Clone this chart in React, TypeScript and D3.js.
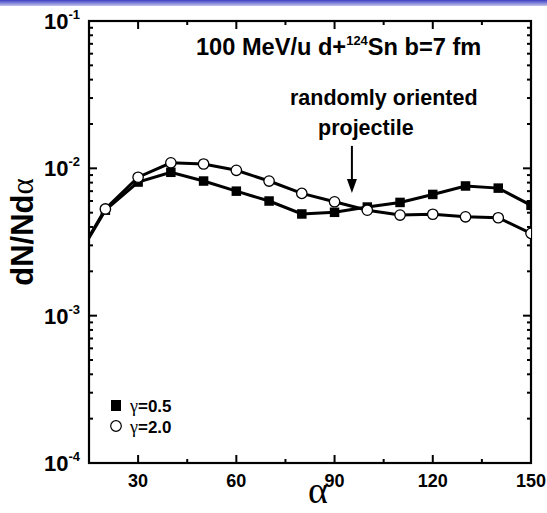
import React from 'react';
import * as d3 from 'd3';

const angles = [10, 20, 30, 40, 50, 60, 70, 80, 90, 100, 110, 120, 130, 140, 150];
const gammaHalf = [2.2e-3, 5.2e-3, 8.07e-3, 9.4e-3, 8.2e-3, 7.0e-3, 6.0e-3, 4.9e-3, 5.03e-3, 5.46e-3, 5.87e-3, 6.65e-3, 7.59e-3, 7.34e-3, 5.61e-3];
const gammaTwo = [2.2e-3, 5.3e-3, 8.7e-3, 1.09e-2, 1.07e-2, 9.7e-3, 8.2e-3, 6.76e-3, 5.93e-3, 5.2e-3, 4.82e-3, 4.88e-3, 4.69e-3, 4.62e-3, 3.62e-3];
const xMajor = [30, 60, 90, 120, 150];
const xMinor = [45, 75, 105, 135];
const yMajorExp = [-4, -3, -2, -1];
const legendLabels = ['=0.5', '=2.0'];

const W = 547, H = 513;
const L = 89, R = 531, T = 21, B = 463;

export default function App() {
  const x = d3.scaleLinear().domain([15, 150]).range([L, R]);
  const y = d3.scaleLog().domain([1e-4, 1e-1]).range([B, T]);
  const yMinor: number[] = [];
  for (let e = -4; e < -1; e++) for (let k = 2; k <= 9; k++) yMinor.push(k * Math.pow(10, e));
  const line = d3.line<number>().x((_, i) => x(angles[i])).y(v => y(v));
  const bold = { fontFamily: 'Liberation Sans, Arial, sans-serif', fontWeight: 700 } as const;
  const serif = 'Liberation Serif, Times New Roman, serif';
  const ax = x(95.3);
  return (
    <svg width={W} height={H} style={{ position: 'absolute', left: 0, top: 0, background: '#fff' }}>
      <defs>
        <linearGradient id="bar" x1="0" y1="0" x2="0" y2="1">
          <stop offset="0" stopColor="#3e3ec2" />
          <stop offset="1" stopColor="#c4c4ee" />
        </linearGradient>
        <clipPath id="plot"><rect x={L} y={T} width={R - L} height={B - T} /></clipPath>
      </defs>
      <rect x={0} y={0} width={W} height={6} fill="url(#bar)" />
      {/* ticks */}
      <g stroke="#000" strokeWidth={2}>
        {xMajor.map(v => (
          <g key={'xm' + v}>
            <line x1={x(v)} x2={x(v)} y1={B} y2={B - 8} />
            <line x1={x(v)} x2={x(v)} y1={T} y2={T + 8} />
          </g>
        ))}
        {xMinor.map(v => (
          <g key={'xn' + v}>
            <line x1={x(v)} x2={x(v)} y1={B} y2={B - 4} />
            <line x1={x(v)} x2={x(v)} y1={T} y2={T + 4} />
          </g>
        ))}
        {yMajorExp.map(e => (
          <g key={'ym' + e}>
            <line x1={L} x2={L + 8} y1={y(Math.pow(10, e))} y2={y(Math.pow(10, e))} />
            <line x1={R} x2={R - 8} y1={y(Math.pow(10, e))} y2={y(Math.pow(10, e))} />
          </g>
        ))}
        {yMinor.map(v => (
          <g key={'yn' + v}>
            <line x1={L} x2={L + 4} y1={y(v)} y2={y(v)} />
            <line x1={R} x2={R - 4} y1={y(v)} y2={y(v)} />
          </g>
        ))}
      </g>
      <rect x={L} y={T} width={R - L} height={B - T} fill="none" stroke="#000" strokeWidth={2.2} />
      {/* tick labels */}
      {xMajor.map(v => (
        <text key={'xl' + v} x={x(v)} y={487} textAnchor="middle" fontSize={18} {...bold}>{v}</text>
      ))}
      {yMajorExp.map(e => (
        <text key={'yl' + e} x={80} y={y(Math.pow(10, e)) + 8} textAnchor="end" {...bold} fontSize={22}>
          10<tspan fontSize={13} dy={-10}>{e}</tspan>
        </text>
      ))}
      {/* axis titles */}
      <text x={318} y={503} textAnchor="middle" fontFamily={serif} fontSize={38}>α</text>
      <text transform={`translate(33,232) rotate(-90)`} textAnchor="middle" {...bold} fontSize={31}>
        dN/Nd<tspan fontFamily={serif} fontWeight={400}>α</tspan>
      </text>
      {/* data */}
      <g clipPath="url(#plot)">
        <path d={line(gammaHalf) || ''} fill="none" stroke="#000" strokeWidth={3} />
        <path d={line(gammaTwo) || ''} fill="none" stroke="#000" strokeWidth={3} />
        {gammaHalf.map((v, i) => (
          <rect key={'s' + i} x={x(angles[i]) - 4.75} y={y(v) - 4.75} width={9.5} height={9.5} fill="#000" />
        ))}
        {gammaTwo.map((v, i) => (
          <circle key={'c' + i} cx={x(angles[i])} cy={y(v)} r={5.2} fill="#fff" stroke="#000" strokeWidth={1.3} />
        ))}
      </g>
      {/* title */}
      <text x={196} y={55} {...bold} fontSize={23.6}>
        100 MeV/u d+<tspan fontSize={13} dy={-10}>124</tspan><tspan dy={10}>Sn b=7 fm</tspan>
      </text>
      {/* annotation */}
      <text x={290} y={105} {...bold} fontSize={21.5}>randomly oriented</text>
      <text x={318} y={135} {...bold} fontSize={21.5}>projectile</text>
      <line x1={ax} x2={ax} y1={y(1.42e-2)} y2={y(8.2e-3)} stroke="#000" strokeWidth={2} />
      <polygon points={`${ax - 5},${y(8.2e-3) - 2} ${ax + 5},${y(8.2e-3) - 2} ${ax},${y(6.8e-3)}`} fill="#000" />
      {/* legend */}
      <rect x={111} y={400} width={10} height={11} fill="#000" />
      <circle cx={116} cy={426} r={5.3} fill="#fff" stroke="#000" strokeWidth={1.2} />
      {legendLabels.map((t, i) => (
        <text key={'lg' + i} x={130} y={412 + i * 21} fontSize={17} {...bold}>
          <tspan fontFamily={serif} fontWeight={400} fontSize={18}>γ</tspan>{t}
        </text>
      ))}
    </svg>
  );
}
